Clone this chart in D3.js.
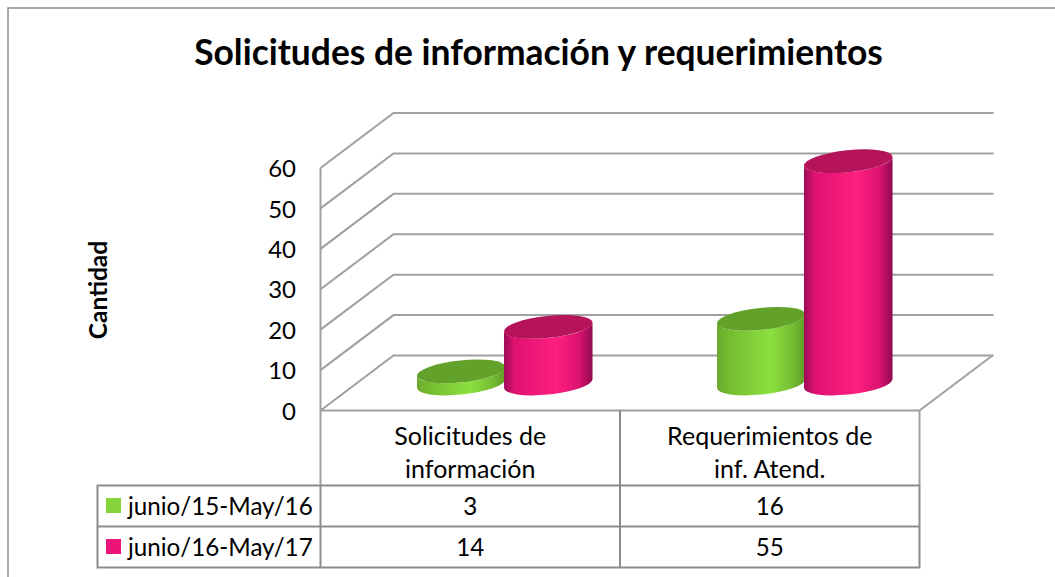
<!DOCTYPE html>
<html><head><meta charset="utf-8">
<script src="https://cdn.jsdelivr.net/npm/d3@7"></script>
<style>html,body{margin:0;padding:0;background:#fff}svg{display:block}text{font-family:Lato,"Noto Sans",sans-serif;fill:#000}</style>
</head><body><svg id="c" width="1055" height="577"></svg>
<script>
const categories = [["Solicitudes de","información"],["Requerimientos de","inf. Atend."]];
const seriesNames = ["junio/15-May/16","junio/16-May/17"];
const series1 = [3,16];
const series2 = [14,55];
const yTicks = [0,10,20,30,40,50,60];
const title = "Solicitudes de información y requerimientos";
const yTitle = "Cantidad";
const sideStops = [
 [["0%","#6da82e"],["12%","#74bb30"],["60%","#8ce040"],["85%","#74bd32"],["100%","#5f9c28"]],
 [["0%","#9c0c58"],["12%","#df1270"],["60%","#ff1f80"],["85%","#db1270"],["100%","#900a50"]]
];
const topColors = ["#63a22a","#b5135a"];
const legendColors = ["#84d43a","#eb1478"];

const svg = d3.select("#c");
const grey = "#8c8c8c", wallGrey="#a0a0a0";
const L=320.5,R=919.5,Y0=410.5,Y60=168,DX=73,DY=-55;
const y = d3.scaleLinear().domain([0,60]).range([Y0,Y60]);
const x = d3.scaleBand().domain([0,1]).range([L,R]);

// frame
svg.append("path").attr("d","M8,577V8H1055").attr("fill","none").attr("stroke",grey).attr("stroke-width",1.5);

// defs
const defs = svg.append("defs");
sideStops.forEach((st,i)=>{
  const g=defs.append("linearGradient").attr("id","g"+i);
  st.forEach(s=>g.append("stop").attr("offset",s[0]).attr("stop-color",s[1]));
});

// walls
const wall = svg.append("g").attr("fill","none").attr("stroke",wallGrey).attr("stroke-width",2);
yTicks.forEach(t=>{
  wall.append("path").attr("d",`M${L},${y(t)}L${L+DX},${y(t)+DY}H${R+DX+1}`);
});
wall.append("path").attr("d",`M${L},${y(60)}V${Y0+75}`);
wall.append("path").attr("d",`M${L},${Y0}H${R}L${R+DX},${Y0+DY}`);

// cylinders
const a=44.5,b=11,tilt=6,phi=tilt*Math.PI/180;
const W=Math.sqrt(a*a*Math.cos(phi)**2+b*b*Math.sin(phi)**2);
const ky=(a*a-b*b)*Math.sin(phi)*Math.cos(phi)/W;
const groupOffset=[-43.5,43.5];
const baseY=y(0)+DY/2+0.5;
const bars=[];
[series1,series2].forEach((s,si)=>s.forEach((v,ci)=>bars.push({v,si,ci})));
bars.sort((p,q)=>p.ci-q.ci||p.si-q.si);
const gBars=svg.append("g");
bars.forEach(d=>{
  const cx=x(d.ci)+x.bandwidth()/2+DX/2+groupOffset[d.si]-(d.ci==0?2:1.5);
  const h=y(0)-y(d.v);
  const cyB=baseY, cyT=baseY-h;
  const p=`M${cx-W},${cyT+ky}L${cx-W},${cyB+ky}A${a},${b},${-tilt},0,0,${cx+W},${cyB-ky}L${cx+W},${cyT-ky}A${a},${b},${-tilt},0,1,${cx-W},${cyT+ky}Z`;
  gBars.append("path").attr("d",p).attr("fill",`url(#g${d.si})`);
  gBars.append("ellipse").attr("cx",0).attr("cy",0).attr("rx",a).attr("ry",b)
    .attr("transform",`translate(${cx},${cyT}) rotate(${-tilt})`).attr("fill",topColors[d.si]);
});

// y axis
const ax=svg.append("g").attr("transform","translate(296,1)").call(d3.axisLeft(y).tickValues(yTicks).tickSize(0).tickPadding(0));
ax.select(".domain").remove();
ax.selectAll("text").attr("font-size",24).style("font-family","Lato,sans-serif").attr("fill","#000");

// titles
svg.append("text").attr("x",538.5).attr("y",65).attr("text-anchor","middle").attr("font-size",35.4).attr("font-weight",700).text(title);
svg.append("text").attr("transform","translate(107,290) rotate(-90)").attr("text-anchor","middle").attr("font-size",24.5).attr("font-weight",700).text(yTitle);

// data table
const rowY=[485.5,526.5,567.5], tableLeft=97.5;
const tbl=svg.append("g").attr("fill","none").attr("stroke",grey).attr("stroke-width",2);
tbl.append("path").attr("d",`M${tableLeft},${rowY[0]}H${R}V${rowY[2]}H${tableLeft}Z`);
tbl.append("path").attr("d",`M${tableLeft},${rowY[1]}H${R}`);
tbl.append("path").attr("d",`M${L},${rowY[0]}V${rowY[2]}`);
tbl.append("path").attr("d",`M${x(1)},${Y0}V${rowY[2]}`);
wall.append("path").attr("d",`M${R},${Y0}V${rowY[0]}`);

categories.forEach((c,i)=>{
  c.forEach((ln,j)=>svg.append("text").attr("x",x(i)+x.bandwidth()/2).attr("y",445+j*33).attr("text-anchor","middle").attr("font-size",25).text(ln));
});
[series1,series2].forEach((s,si)=>{
  const ty=rowY[si]+29;
  svg.append("rect").attr("x",106).attr("y",rowY[si]+12.5).attr("width",15).attr("height",15).attr("fill",legendColors[si]);
  svg.append("text").attr("x",128).attr("y",ty).attr("font-size",24.2).text(seriesNames[si]);
  s.forEach((v,i)=>svg.append("text").attr("x",x(i)+x.bandwidth()/2).attr("y",ty).attr("text-anchor","middle").attr("font-size",24.2).text(v));
});
</script></body></html>
